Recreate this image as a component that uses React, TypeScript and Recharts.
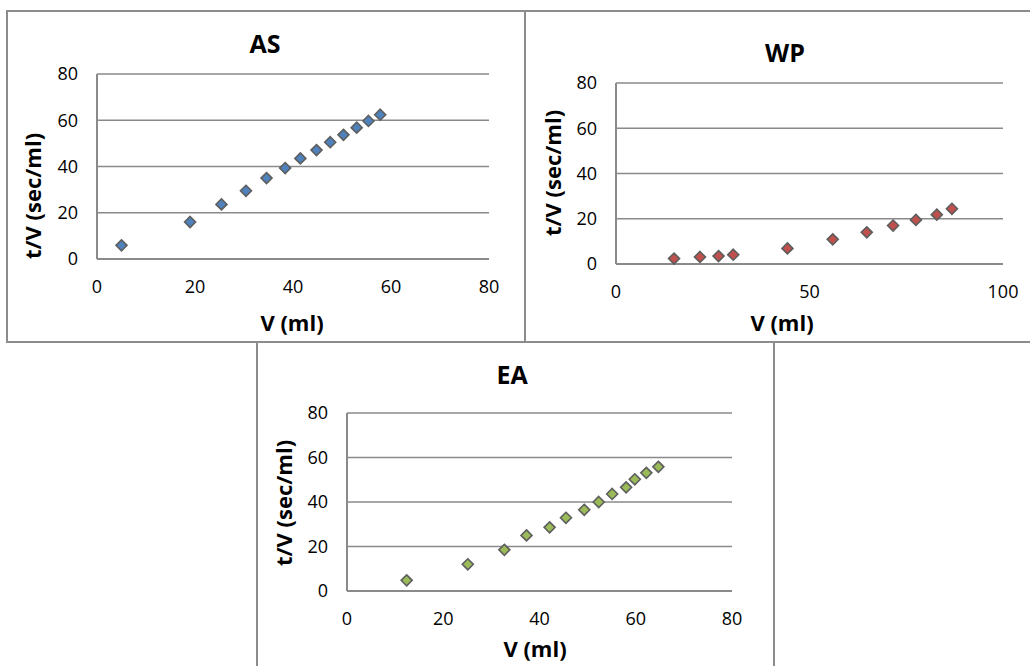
import React from "react";
import { ScatterChart, Scatter, XAxis, YAxis, CartesianGrid } from "recharts";

// Filtration data: volume collected V (ml) vs t/V (sec/ml)
const asVolume = [5.0, 19.0, 25.4, 30.4, 34.6, 38.4, 41.5, 44.8, 47.6, 50.3, 53.0, 55.4, 57.8];
const asTimePerVolume = [5.9, 16.0, 23.6, 29.5, 35.0, 39.3, 43.5, 47.1, 50.5, 53.7, 56.8, 59.7, 62.4];

const wpVolume = [15.0, 21.7, 26.5, 30.3, 44.3, 56.0, 64.8, 71.6, 77.5, 82.9, 86.8];
const wpTimePerVolume = [2.4, 3.1, 3.5, 4.1, 6.9, 10.9, 14.0, 17.0, 19.5, 21.8, 24.4];

const eaVolume = [12.4, 25.1, 32.7, 37.3, 42.1, 45.5, 49.3, 52.3, 55.1, 58.0, 59.8, 62.2, 64.7];
const eaTimePerVolume = [4.8, 12.0, 18.5, 25.0, 28.6, 32.9, 36.5, 40.0, 43.6, 46.6, 50.2, 53.1, 55.8];

const yTicks = [0, 20, 40, 60, 80];
const xTicks80 = [0, 20, 40, 60, 80];
const xTicks100 = [0, 50, 100];

const FONT = "'Open Sans', 'DejaVu Sans', sans-serif";
const GRID = "#8a8a8a";
const BORDER = "#8c8c8c";

const toPoints = (xs: number[], ys: number[]) => xs.map((v, i) => ({ v, tv: ys[i] }));

const Diamond = (fill: string) => (props: any) => {
  const { cx, cy } = props;
  if (cx == null || cy == null) return null;
  const r = 5.5;
  return (
    <path
      d={`M${cx},${cy - r} L${cx + r},${cy} L${cx},${cy + r} L${cx - r},${cy} Z`}
      fill={fill}
      stroke="#5e5e5e"
      strokeWidth={1.6}
    />
  );
};

type PanelProps = {
  title: string;
  xs: number[];
  ys: number[];
  color: string;
  xMax: number;
  xTicks: number[];
  box: { left: number; top: number; width: number; height: number };
  chart: { left: number; top: number; width: number; height: number };
  margin: { top: number; right: number };
  yAxisWidth: number;
  xAxisHeight: number;
  titleAt: [number, number];
  yLabelAt: [number, number];
  xLabelAt: [number, number];
};

const Panel = (p: PanelProps) => {
  const data = toPoints(p.xs, p.ys);
  const tickStyle = { fill: "#000", fontSize: 18, fontFamily: FONT };
  return (
    <>
      <div
        style={{
          position: "absolute",
          left: p.box.left,
          top: p.box.top,
          width: p.box.width,
          height: p.box.height,
          border: `2px solid ${BORDER}`,
          boxSizing: "border-box",
        }}
      />
      <div style={{ position: "absolute", left: p.chart.left, top: p.chart.top }}>
        <ScatterChart
          width={p.chart.width}
          height={p.chart.height}
          margin={{ top: p.margin.top, right: p.margin.right, left: 0, bottom: 0 }}
        >
          <CartesianGrid vertical={false} stroke={GRID} strokeWidth={1.5} />
          <XAxis
            type="number"
            dataKey="v"
            domain={[0, p.xMax]}
            ticks={p.xTicks}
            height={p.xAxisHeight}
            tickLine={false}
            tickSize={0}
            tickMargin={21}
            axisLine={{ stroke: GRID, strokeWidth: 2 }}
            tick={tickStyle}
            interval={0}
          />
          <YAxis
            type="number"
            dataKey="tv"
            domain={[0, 80]}
            ticks={yTicks}
            width={p.yAxisWidth}
            tickLine={false}
            tickSize={0}
            tickMargin={19}
            axisLine={{ stroke: GRID, strokeWidth: 2 }}
            tick={tickStyle}
            interval={0}
          />
          <Scatter data={data} fill={p.color} shape={Diamond(p.color)} isAnimationActive={false} />
        </ScatterChart>
      </div>
      <div
        style={{
          position: "absolute",
          left: p.titleAt[0],
          top: p.titleAt[1],
          transform: "translate(-50%, -50%)",
          fontFamily: FONT,
          fontWeight: 700,
          fontSize: 25,
          whiteSpace: "nowrap",
          lineHeight: 1,
        }}
      >
        {p.title}
      </div>
      <div
        style={{
          position: "absolute",
          left: p.yLabelAt[0],
          top: p.yLabelAt[1],
          transform: "translate(-50%, -50%) rotate(-90deg)",
          fontFamily: FONT,
          fontWeight: 700,
          fontSize: 22,
          whiteSpace: "nowrap",
          lineHeight: 1,
        }}
      >
        t/V (sec/ml)
      </div>
      <div
        style={{
          position: "absolute",
          left: p.xLabelAt[0],
          top: p.xLabelAt[1],
          transform: "translate(-50%, -50%)",
          fontFamily: FONT,
          fontWeight: 700,
          fontSize: 22,
          whiteSpace: "nowrap",
          lineHeight: 1,
        }}
      >
        V (ml)
      </div>
    </>
  );
};

export default function App() {
  return (
    <div
      style={{
        position: "absolute",
        left: 0,
        top: 0,
        width: 1030,
        height: 666,
        overflow: "hidden",
        background: "#fff",
        color: "#000",
      }}
    >
      <Panel
        title="AS"
        xs={asVolume}
        ys={asTimePerVolume}
        color="#4f81bd"
        xMax={80}
        xTicks={xTicks80}
        box={{ left: 6, top: 10, width: 520, height: 333 }}
        chart={{ left: 6, top: 10, width: 520, height: 333 }}
        margin={{ top: 64, right: 37 }}
        yAxisWidth={91}
        xAxisHeight={84}
        titleAt={[265, 43]}
        yLabelAt={[32, 196]}
        xLabelAt={[292, 322]}
      />
      <Panel
        title="WP"
        xs={wpVolume}
        ys={wpTimePerVolume}
        color="#c0504d"
        xMax={100}
        xTicks={xTicks100}
        box={{ left: 524, top: 10, width: 520, height: 333 }}
        chart={{ left: 524, top: 10, width: 506, height: 333 }}
        margin={{ top: 73, right: 27 }}
        yAxisWidth={92}
        xAxisHeight={79}
        titleAt={[785, 52]}
        yLabelAt={[552, 173]}
        xLabelAt={[782, 322]}
      />
      <Panel
        title="EA"
        xs={eaVolume}
        ys={eaTimePerVolume}
        color="#9bbb59"
        xMax={80}
        xTicks={xTicks80}
        box={{ left: 256, top: 341, width: 519, height: 340 }}
        chart={{ left: 256, top: 341, width: 519, height: 325 }}
        margin={{ top: 72, right: 43 }}
        yAxisWidth={91}
        xAxisHeight={75}
        titleAt={[512, 374]}
        yLabelAt={[283, 503]}
        xLabelAt={[535, 648]}
      />
    </div>
  );
}
